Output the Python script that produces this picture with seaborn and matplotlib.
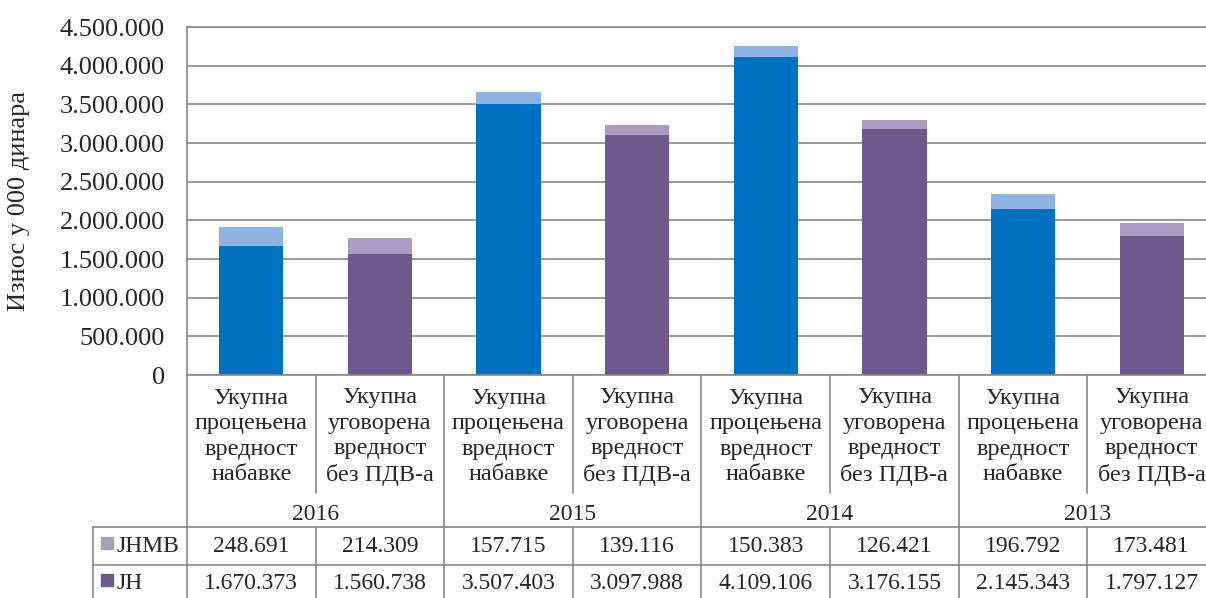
import numpy as np
import pandas as pd
import matplotlib
matplotlib.use("Agg")
import matplotlib.pyplot as plt
from matplotlib.transforms import blended_transform_factory
from matplotlib.ticker import FuncFormatter
import seaborn as sns

# ---------------- data ----------------
years = ["2016", "2015", "2014", "2013"]
cat_est = "Укупна\nпроцењена\nвредност\nнабавке"
cat_con = "Укупна\nуговорена\nвредност\nбез ПДВ-а"
categories = [cat_est, cat_con] * 4
series_names = ["JHMB", "JH"]
jh = [1670373, 1560738, 3507403, 3097988, 4109106, 3176155, 2145343, 1797127]
jhmb = [248691, 214309, 157715, 139116, 150383, 126421, 196792, 173481]
y_ticks = [0, 500000, 1000000, 1500000, 2000000, 2500000, 3000000, 3500000, 4000000, 4500000]
y_label = "Износ у 000 динара"

# ---------------- style ----------------
sns.set_style("white")
plt.rcParams["font.family"] = ["Liberation Serif", "DejaVu Serif"]

BLUE, LBLUE = "#0070C0", "#8EB4E3"
PURP, LPURP = "#70588C", "#AC9CC2"
GRID = "#878787"

def fmt(v, pos=None):
    return f"{int(round(v)):,}".replace(",", ".")

keys = [f"c{i}" for i in range(len(jh))]
df = pd.DataFrame({"key": keys, "jh": jh, "jhmb": jhmb})
df["total"] = df["jh"] + df["jhmb"]

dark = [BLUE if i % 2 == 0 else PURP for i in range(len(keys))]
light = [LBLUE if i % 2 == 0 else LPURP for i in range(len(keys))]

fig = plt.figure(figsize=(12.06, 5.98), dpi=100)
ax = fig.add_axes([187 / 1206, 1 - 375 / 598, 1029 / 1206, 348 / 598])

sns.barplot(data=df, x="key", y="total", hue="key", order=keys, hue_order=keys,
            palette=light, width=0.5, saturation=1, linewidth=0, errorbar=None,
            legend=False, ax=ax)
sns.barplot(data=df, x="key", y="jh", hue="key", order=keys, hue_order=keys,
            palette=dark, width=0.5, saturation=1, linewidth=0, errorbar=None,
            legend=False, ax=ax)

ax.set_xlim(-0.5, len(keys) - 0.5)
ax.set_ylim(0, 4500000)
ax.set_yticks(y_ticks)
ax.yaxis.set_major_formatter(FuncFormatter(fmt))
ax.set_xticks([])
ax.set_xlabel("")
ax.grid(axis="y", color=GRID, lw=1.2)
ax.set_axisbelow(True)
ax.spines["right"].set_visible(False)
for s in ["top", "left", "bottom"]:
    ax.spines[s].set_color(GRID)
    ax.spines[s].set_linewidth(1.2)
ax.tick_params(axis="y", length=0, pad=16, labelsize=19)
ax.set_ylabel(y_label, fontsize=19)
ax.yaxis.set_label_coords(-0.153, 0.5)

# ---------------- data table ----------------
tr = blended_transform_factory(ax.transData, ax.transAxes)
y_lab_bot = -0.339
y_year_bot = -0.437
y_jhmb_bot = -0.546
y_bot = -0.70
x_leg = -1.231

def vline(x, y0, y1):
    ax.plot([x, x], [y0, y1], color=GRID, lw=1.2, transform=tr, clip_on=False)

def hline(y, x0, x1):
    ax.plot([x0, x1], [y, y], color=GRID, lw=1.2, transform=tr, clip_on=False)

n = len(keys)
for i in range(n):
    xb = i + 0.5
    if i % 2 == 0:
        vline(xb, 0, y_lab_bot)
        vline(xb, y_year_bot, y_bot)
    else:
        vline(xb, 0, y_bot)
vline(-0.5, 0, y_bot)
vline(x_leg, y_year_bot, y_bot)
hline(y_year_bot, x_leg, n - 0.5)
hline(y_jhmb_bot, x_leg, n - 0.5)

for i, c in enumerate(categories):
    ax.text(i, -0.177, c, transform=tr, ha="center", va="center",
            fontsize=17.5, linespacing=1.27, clip_on=False)
for k, yr in enumerate(years):
    ax.text(2 * k + 0.5, -0.402, yr, transform=tr, ha="center", va="center",
            fontsize=17, clip_on=False)
for i in range(n):
    ax.text(i, -0.492, fmt(jhmb[i]), transform=tr, ha="center", va="center",
            fontsize=17, clip_on=False)
    ax.text(i, -0.598, fmt(jh[i]), transform=tr, ha="center", va="center",
            fontsize=17, clip_on=False)

for name, yy, col in [("JHMB", -0.492, LPURP), ("JH", -0.598, PURP)]:
    ax.plot([-1.122], [yy + 0.01], marker="s", ms=8, color=col, transform=tr,
            clip_on=False, linestyle="none")
    ax.text(-1.05, yy, name, transform=tr, ha="left", va="center",
            fontsize=17, clip_on=False)

fig.savefig("out.png", dpi=100)
